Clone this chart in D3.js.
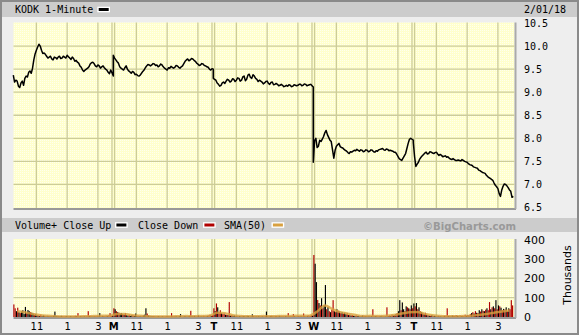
<!DOCTYPE html>
<html>
<head>
<meta charset="utf-8">
<script src="https://cdn.jsdelivr.net/npm/d3@7"></script>
<style>
  body { margin: 0; background: #eeeeee; }
  svg { display: block; }
  .mono { font-family: "DejaVu Sans Mono", monospace; font-size: 10px; fill: #000; }
  .sans { font-family: "DejaVu Sans", sans-serif; font-size: 10px; fill: #000; }
</style>
</head>
<body>
<svg id="chart" width="579" height="335"></svg>
<script>
// KODK 1-minute, five sessions (Fri 1/26 .. Thu 2/01)
// price: one value every 5 minutes from 9:30 to 16:00 (79 per day)
const priceDays = [
  [9.37,9.22,9.26,9.24,9.13,9.10,9.20,9.24,9.15,9.30, 9.35,9.33,9.43,9.46,9.41,9.52,9.70,9.83,9.91,9.98,
   10.04,10.00,9.91,9.84,9.85,9.82,9.78,9.74,9.76,9.78, 9.72,9.70,9.76,9.75,9.72,9.76,9.78,9.73,9.74,9.78,
   9.76,9.74,9.80,9.77,9.74,9.71,9.76,9.73,9.67,9.69, 9.65,9.63,9.57,9.54,9.48,9.45,9.48,9.50,9.52,9.55,
   9.61,9.64,9.65,9.62,9.57,9.55,9.59,9.57,9.52,9.55, 9.57,9.53,9.50,9.48,9.43,9.40,9.48,9.42,9.35],
  [9.80,9.74,9.70,9.66,9.63,9.55,9.52,9.50,9.48,9.53, 9.57,9.50,9.46,9.44,9.41,9.45,9.43,9.38,9.39,9.36,
   9.35,9.37,9.41,9.45,9.48,9.53,9.57,9.60,9.59,9.57, 9.59,9.62,9.61,9.58,9.59,9.55,9.57,9.61,9.59,9.55,
   9.52,9.50,9.48,9.53,9.52,9.56,9.54,9.52,9.54,9.58, 9.57,9.54,9.52,9.55,9.57,9.62,9.67,9.70,9.72,9.68,
   9.70,9.73,9.72,9.69,9.67,9.63,9.61,9.58,9.59,9.62, 9.61,9.58,9.57,9.55,9.54,9.50,9.48,9.51,9.50],
  [9.30,9.28,9.26,9.20,9.17,9.13,9.15,9.20,9.22,9.19, 9.24,9.28,9.26,9.22,9.24,9.29,9.28,9.23,9.26,9.31,
   9.30,9.24,9.26,9.33,9.35,9.25,9.28,9.37,9.39,9.32, 9.30,9.38,9.35,9.30,9.28,9.23,9.26,9.24,9.22,9.18,
   9.20,9.23,9.24,9.19,9.17,9.21,9.22,9.16,9.17,9.19, 9.17,9.14,9.15,9.17,9.15,9.12,9.13,9.15,9.13,9.16,
   9.15,9.12,9.13,9.16,9.15,9.14,9.15,9.17,9.17,9.14, 9.15,9.18,9.17,9.14,9.15,9.16,9.17,9.14,9.11],
  [7.48,7.95,8.00,7.80,7.83,7.96,7.93,7.98,8.04,8.12, 8.17,8.08,8.02,7.96,7.93,7.75,7.57,7.74,7.83,7.86,
   7.89,7.82,7.80,7.79,7.76,7.74,7.72,7.69,7.67,7.71, 7.70,7.72,7.74,7.73,7.76,7.74,7.72,7.75,7.74,7.71,
   7.72,7.75,7.74,7.71,7.72,7.75,7.74,7.71,7.70,7.73, 7.72,7.75,7.76,7.77,7.78,7.75,7.74,7.77,7.76,7.73,
   7.74,7.73,7.72,7.70,7.70,7.66,7.61,7.56,7.54,7.52, 7.57,7.62,7.67,7.78,7.89,7.98,8.00,7.98,7.96],
  [7.91,7.60,7.39,7.44,7.48,7.55,7.59,7.62,7.65,7.68, 7.70,7.66,7.67,7.71,7.70,7.68,7.67,7.69,7.70,7.66,
   7.63,7.65,7.63,7.60,7.61,7.62,7.59,7.60,7.57,7.55, 7.54,7.56,7.54,7.52,7.52,7.53,7.52,7.51,7.54,7.52,
   7.50,7.49,7.48,7.45,7.43,7.42,7.41,7.38,7.37,7.36, 7.35,7.31,7.30,7.28,7.26,7.25,7.24,7.20,7.17,7.15,
   7.13,7.11,7.09,7.03,6.98,6.95,6.91,6.80,6.74,6.88, 6.96,7.01,7.00,6.97,6.93,6.88,6.85,6.72,6.74]
];

// volume (thousands), one bar every 5 minutes (78 per day); negative = close down
const volumeDays = [
  [-65,-45,30,-48,25,-20,28,35,15,52,-20,36,30, -25,22,18,-12,14,10,-8,6,-12,5,8,-6,4,
   6,-5,4,5,-4,6,28,5,3,-5,4,6,-4, 3,-5,4,3,-4,5,3,-4,4,-6,5,-20,3,
   4,-5,3,4,-3,4,-30,5,-6,4,3,-5,4, -6,3,20,-4,6,-5,4,-7,6,-9,-20,-6,8],
  [-45,40,-30,25,-22,18,20,-15,12,-20,10,8,-12, 6,10,-8,6,18,5,-6,4,6,-5,8,12,45,
   -18,8,-6,5,4,-5,4,3,-4,5,3,-4,4, 3,-4,3,-5,4,3,-20,4,-5,3,4,-3,5,
   15,-4,3,4,-5,3,4,-6,-32,5,-4,6,3, -5,8,-4,5,3,-6,4,-5,6,-8,-12,6,-10],
  [-45,30,-70,50,-25,-35,20,-15,-18,12,-12,10,-77, 8,-10,6,8,-5,6,-4,5,4,-6,5,4,-4,
   6,5,-3,4,14,-5,3,4,-3,5,3,-4,4, 3,-5,28,-4,3,5,-6,4,3,-5,4,-4,6,
   3,-5,4,-3,5,4,-20,3,-5,4,-15,5,3, -6,4,-5,6,3,-18,5,-4,6,-8,5,-10,8],
  [-320,275,180,-88,72,-60,97,-45,60,165,-40,52,-30, 25,-38,-87,30,-25,40,-32,28,-20,25,-18,22,15,
   -20,10,-12,8,-10,6,5,-8,4,6,-5,4,8, -6,5,-4,3,6,-4,5,-40,4,5,-6,3,-5,
   4,6,-5,3,4,-50,5,-8,6,-12,8,-10,15, -20,30,87,-35,75,40,-30,55,-50,45,-40,60,-45],
  [70,-55,72,-40,50,-30,25,-20,15,-22,12,-10,8, -6,10,-5,6,4,-5,6,-4,5,3,-4,6,-6,
   -45,5,-6,4,8,-6,5,-10,6,4,-8,5,-6, 4,-12,6,-10,8,-15,20,-25,18,-30,22,-20,35,
   -28,40,-32,30,-38,45,-35,-77,40,-50,55,-45,87, -40,60,-55,48,-35,42,-38,50,-30,45,-40,-87,-60]
];

// SMA(50) of volume (thousands), read at minute 15, 45, ... 375 of each day
const smaDays = [
  [30,25,15,9,6,4,3,3,3,4,5,6,6],
  [16,15,9,6,4,3,3,3,4,5,4,5,6],
  [22,20,9,5,4,4,5,4,5,5,6,6,7],
  [28,60,40,25,17,10,5,6,5,6,10,18,24],
  [26,16,9,5,4,4,5,7,11,16,22,28,34]
];

const priceTicks = [6.5, 7.0, 7.5, 8.0, 8.5, 9.0, 9.5, 10.0, 10.5];
const volumeTicks = [0, 100, 200, 300, 400];
const dayLabels = ['', 'M', 'T', 'W', 'T'];
const hourMinutes = [90, 210, 330];
const hourLabels = ['11', '1', '3'];

const DAY = 390;
const W = 579, H = 335;

const svg = d3.select('#chart');
const x = d3.scaleLinear().domain([0, 5 * DAY]).range([13.3, 513.3]);
const yP = d3.scaleLinear().domain([6.5, 10.5]).range([207.5, 23]);
const yV = d3.scaleLinear().domain([0, 400]).range([317, 239.5]);

// dithered pale yellow fill
const pat = svg.append('defs').append('pattern')
    .attr('id', 'dots').attr('width', 2).attr('height', 2)
    .attr('patternUnits', 'userSpaceOnUse');
pat.append('rect').attr('width', 2).attr('height', 2).attr('fill', '#ffffcc');
pat.append('rect').attr('width', 1).attr('height', 1).attr('fill', '#ffffee');

// frame and bands
svg.append('rect').attr('width', W).attr('height', H).attr('fill', '#eeeeee');
svg.append('rect').attr('x', 0).attr('y', 0).attr('width', W).attr('height', 17).attr('fill', '#cccccc');
svg.append('rect').attr('x', 0).attr('y', 218).attr('width', W).attr('height', 14).attr('fill', '#cccccc');
svg.append('rect').attr('x', 1).attr('y', 1).attr('width', W - 2).attr('height', H - 2)
    .attr('fill', 'none').attr('stroke', '#8a8a8a').attr('stroke-width', 2);

function panel(top, bottom) {
    svg.append('rect').attr('x', 13.5).attr('y', top).attr('width', 501).attr('height', bottom - top)
        .attr('fill', 'url(#dots)');
    svg.append('line').attr('x1', 13.5).attr('x2', 516).attr('y1', bottom + 1).attr('y2', bottom + 1)
        .attr('stroke', '#999999').attr('stroke-width', 2);
    svg.append('line').attr('x1', 515.5).attr('x2', 515.5).attr('y1', top).attr('y2', bottom + 1)
        .attr('stroke', '#aaaaaa').attr('stroke-width', 2);
}
panel(22.5, 208);
panel(239, 317);

// time ticks
const hourTicks = [];
const dayTicks = [];
for (let d = 0; d < 5; d++) {
    hourMinutes.forEach((m, i) => hourTicks.push({ t: d * DAY + m, label: hourLabels[i] }));
    if (d > 0) dayTicks.push({ t: d * DAY, label: dayLabels[d] });
}

const gridColor = '#cccc99';
function vgrid(top, bottom) {
    const g = svg.append('g').attr('stroke', gridColor).attr('stroke-width', 1.3);
    g.selectAll('.h').data(hourTicks).enter().append('line')
        .attr('x1', d => x(d.t)).attr('x2', d => x(d.t))
        .attr('y1', top).attr('y2', bottom);
    [-1.3, 1.3].forEach(off => {
        g.selectAll(null).data(dayTicks).enter().append('line')
            .attr('x1', d => x(d.t) + off).attr('x2', d => x(d.t) + off)
            .attr('y1', top).attr('y2', bottom);
    });
}

// price grid
svg.append('g').attr('stroke', gridColor).attr('stroke-width', 1.3)
    .selectAll('line').data(priceTicks.slice(1, -1)).enter().append('line')
    .attr('x1', 13.5).attr('x2', 514.5)
    .attr('y1', d => yP(d)).attr('y2', d => yP(d));
vgrid(22.5, 208);

// volume grid
svg.append('g').attr('stroke', gridColor).attr('stroke-width', 1.3)
    .selectAll('line').data(volumeTicks.slice(1, -1)).enter().append('line')
    .attr('x1', 13.5).attr('x2', 514.5)
    .attr('y1', d => yV(d)).attr('y2', d => yV(d));
vgrid(239, 317);

// price line
const pricePts = [];
priceDays.forEach((arr, d) => arr.forEach((p, i) => pricePts.push([d * DAY + i * 5, p])));
const line = d3.line().x(d => x(d[0])).y(d => yP(d[1]));
svg.append('path').datum(pricePts)
    .attr('fill', 'none').attr('stroke', '#000').attr('stroke-width', 1.5)
    .attr('stroke-linejoin', 'round')
    .attr('d', line);

// volume bars
const bars = [];
volumeDays.forEach((arr, d) => arr.forEach((v, i) => bars.push({ t: d * DAY + i * 5, v: v })));
const bw = x(5) - x(0);
svg.append('g').selectAll('rect').data(bars).enter().append('rect')
    .attr('x', d => x(d.t))
    .attr('width', bw * 0.9)
    .attr('y', d => yV(Math.abs(d.v)))
    .attr('height', d => yV(0) - yV(Math.abs(d.v)))
    .attr('fill', d => d.v < 0 ? '#b00000' : '#000000');

// SMA(50)
const smaPts = [];
smaDays.forEach((arr, d) => arr.forEach((v, i) => smaPts.push([d * DAY + 15 + i * 30, v])));
svg.append('path').datum(smaPts)
    .attr('fill', 'none').attr('stroke', '#d8a040').attr('stroke-width', 2.5)
    .attr('stroke-opacity', 0.8)
    .attr('d', d3.line().curve(d3.curveMonotoneX).x(d => x(d[0])).y(d => yV(d[1])));

// right axes
const pAxis = svg.append('g').attr('transform', 'translate(514,0)')
    .call(d3.axisRight(yP).tickValues(priceTicks).tickFormat(d3.format('.1f')).tickSize(0).tickPadding(10));
pAxis.select('.domain').remove();
pAxis.selectAll('text').attr('class', 'mono').attr('font-family', null).attr('font-size', null);

const vAxis = svg.append('g').attr('transform', 'translate(514,0)')
    .call(d3.axisRight(yV).tickValues(volumeTicks).tickFormat(d3.format('d')).tickSize(0).tickPadding(10));
vAxis.select('.domain').remove();
vAxis.selectAll('text').attr('class', 'sans').attr('font-family', null).attr('font-size', null)
    .style('font-size', '11px');

// bottom time axis
const allTicks = hourTicks.concat(dayTicks);
const tickLabel = new Map(allTicks.map(d => [d.t, d.label]));
const xAxis = svg.append('g').attr('transform', 'translate(0,317)')
    .call(d3.axisBottom(x).tickValues(allTicks.map(d => d.t)).tickFormat(t => tickLabel.get(t))
        .tickSize(0).tickPadding(6));
xAxis.select('.domain').remove();
xAxis.selectAll('text').attr('class', 'sans').attr('font-family', null).attr('font-size', null)
    .style('font-weight', t => t % DAY === 0 ? 'bold' : 'normal');

// header
svg.append('text').attr('class', 'mono').attr('x', 15).attr('y', 13).text('KODK 1-Minute');
function swatch(x0, y0, color) {
    svg.append('rect').attr('x', x0).attr('y', y0).attr('width', 12.7).attr('height', 5.6).attr('fill', '#fff');
    svg.append('rect').attr('x', x0 + 1.4).attr('y', y0 + 1.3).attr('width', 10).attr('height', 3).attr('fill', color);
}
swatch(97.3, 6.7, '#000');
svg.append('text').attr('class', 'mono').attr('x', 524).attr('y', 13).text('2/01/18');

// middle legend band
svg.append('text').attr('class', 'mono').attr('x', 15).attr('y', 229).text('Volume+ Close Up');
swatch(115, 222.2, '#000');
svg.append('text').attr('class', 'mono').attr('x', 138).attr('y', 229).text('Close Down');
swatch(203, 222.2, '#b00000');
svg.append('text').attr('class', 'mono').attr('x', 224).attr('y', 229).text('SMA(50)');
swatch(271.5, 222.2, '#d8a040');
svg.append('text').attr('x', 516).attr('y', 229.5).attr('text-anchor', 'end')
    .attr('textLength', 93).attr('lengthAdjust', 'spacingAndGlyphs')
    .style('font-family', '"DejaVu Sans", sans-serif').style('font-size', '11px')
    .style('font-weight', 'bold').style('fill', '#999999')
    .text('©BigCharts.com');

svg.append('text').attr('transform', 'translate(570.5,275) rotate(-90)')
    .attr('text-anchor', 'middle').attr('class', 'sans').style('font-size', '11px')
    .text('Thousands');
</script>
</body>
</html>
